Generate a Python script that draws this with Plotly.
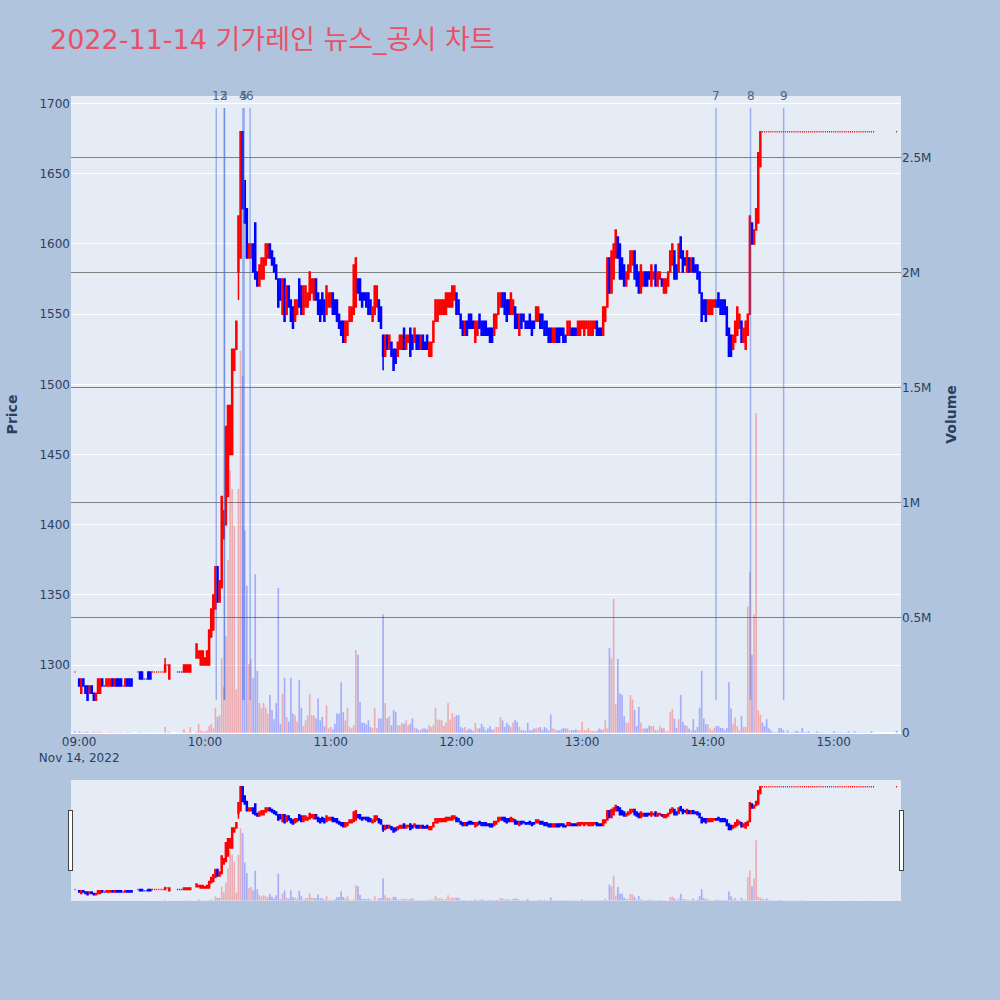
import pandas as pd
import plotly.graph_objects as go

DAY = "2022-11-14"
TITLE = "2022-11-14 기가레인 뉴스_공시 차트"

# ---- minute timestamps ----
early_times = [
    "08:58",
    "09:00", "09:01", "09:02", "09:03", "09:04", "09:05", "09:06", "09:07", "09:08", "09:09",
    "09:10", "09:11", "09:12", "09:13", "09:14", "09:15", "09:16", "09:17", "09:18", "09:19",
    "09:20", "09:21", "09:22", "09:23", "09:24", "09:25",
    "09:28", "09:29", "09:30", "09:31", "09:32", "09:33", "09:34", "09:35", "09:36", "09:37",
    "09:38", "09:39", "09:40", "09:41", "09:42", "09:43",
    "09:47", "09:48", "09:49", "09:50", "09:51", "09:52", "09:53",
]
continuous_start = "09:56"
continuous_end = "15:19"
close_auction_time = "15:30"

# ---- prices ----
early_open = [
    1295,
    1290, 1280, 1290, 1285, 1285, 1280, 1285, 1280, 1275, 1280,
    1280, 1290, 1285, 1285, 1285, 1285, 1290, 1285, 1290, 1290,
    1290, 1285, 1285, 1290, 1290, 1290,
    1295, 1295, 1295, 1290, 1290, 1295, 1295, 1295, 1295, 1295,
    1295, 1295, 1295, 1295, 1300, 1290,
    1295, 1295, 1295, 1295, 1295, 1295, 1295,
]
early_close = [
    1295,
    1285, 1290, 1285, 1280, 1275, 1285, 1280, 1275, 1280, 1290,
    1290, 1285, 1285, 1290, 1290, 1290, 1285, 1290, 1285, 1285,
    1285, 1285, 1290, 1285, 1285, 1285,
    1295, 1290, 1290, 1290, 1290, 1290, 1290, 1295, 1295, 1295,
    1295, 1295, 1295, 1300, 1300, 1300,
    1295, 1295, 1295, 1300, 1300, 1300, 1300,
]

cont_open = [
    1305, 1305, 1300, 1300, 1300, 1300, 1300, 1320, 1325, 1340,
    1370, 1345, 1355, 1390, 1400, 1420, 1450, 1450, 1510, 1525,
    1580, 1590, 1680, 1645, 1625, 1590, 1590, 1600, 1615, 1580,
    1570, 1575, 1575, 1585, 1590, 1600, 1595, 1590, 1585, 1575,
    1575, 1550, 1575, 1550, 1570, 1560, 1555, 1545, 1550, 1575,
    1570, 1550, 1555, 1555, 1560, 1565, 1560, 1575, 1565, 1560,
    1565, 1560, 1550, 1555, 1555, 1565, 1560, 1560, 1550, 1545,
    1545, 1530, 1535, 1545, 1545, 1550, 1555, 1575, 1575, 1565,
    1565, 1565, 1565, 1560, 1545, 1550, 1555, 1560, 1555, 1535,
    1520, 1535, 1525, 1530, 1525, 1525, 1520, 1525, 1525, 1540,
    1525, 1530, 1540, 1535, 1530, 1535, 1535, 1525, 1535, 1530,
    1535, 1520, 1520, 1530, 1545, 1545, 1550, 1550, 1550, 1550,
    1555, 1555, 1555, 1560, 1565, 1560, 1550, 1545, 1535, 1545,
    1550, 1550, 1545, 1530, 1535, 1550, 1545, 1545, 1545, 1540,
    1540, 1540, 1535, 1540, 1550, 1555, 1565, 1565, 1560, 1560,
    1550, 1550, 1555, 1550, 1535, 1550, 1550, 1545, 1545, 1550,
    1545, 1545, 1545, 1545, 1550, 1550, 1545, 1545, 1540, 1540,
    1530, 1530, 1540, 1540, 1540, 1540, 1535, 1535, 1535, 1540,
    1540, 1540, 1535, 1535, 1540, 1535, 1540, 1535, 1535, 1535,
    1540, 1545, 1540, 1540, 1535, 1545, 1555, 1590, 1565, 1575,
    1590, 1605, 1600, 1590, 1585, 1570, 1575, 1580, 1585, 1595,
    1585, 1580, 1565, 1570, 1580, 1580, 1580, 1570, 1575, 1585,
    1570, 1575, 1575, 1565, 1565, 1570, 1580, 1585, 1595, 1585,
    1580, 1605, 1595, 1590, 1580, 1590, 1580, 1590, 1585, 1585,
    1580, 1565, 1560, 1560, 1550, 1550, 1550, 1555, 1560, 1565,
    1560, 1560, 1560, 1555, 1540, 1535, 1525, 1530, 1535, 1540,
    1545, 1530, 1525, 1535, 1550, 1615, 1600, 1610, 1615, 1655,
    1680, 1680, 1680, 1680, 1680, 1680, 1680, 1680, 1680, 1680,
    1680, 1680, 1680, 1680, 1680, 1680, 1680, 1680, 1680, 1680,
    1680, 1680, 1680, 1680, 1680, 1680, 1680, 1680, 1680, 1680,
    1680, 1680, 1680, 1680, 1680, 1680, 1680, 1680, 1680, 1680,
    1680, 1680, 1680, 1680, 1680, 1680, 1680, 1680, 1680, 1680,
    1680, 1680, 1680, 1680,
]
cont_close = [
    1315, 1310, 1310, 1310, 1305, 1310, 1325, 1340, 1350, 1370,
    1345, 1360, 1420, 1410, 1470, 1485, 1485, 1525, 1525, 1545,
    1620, 1680, 1625, 1615, 1590, 1600, 1600, 1580, 1575, 1570,
    1585, 1590, 1590, 1600, 1600, 1590, 1585, 1580, 1575, 1555,
    1560, 1575, 1545, 1570, 1555, 1545, 1540, 1560, 1560, 1555,
    1550, 1570, 1570, 1565, 1580, 1575, 1575, 1560, 1550, 1545,
    1550, 1545, 1570, 1565, 1565, 1550, 1550, 1545, 1540, 1535,
    1530, 1545, 1545, 1555, 1555, 1585, 1590, 1565, 1560, 1555,
    1560, 1555, 1550, 1550, 1555, 1570, 1570, 1545, 1540, 1520,
    1535, 1525, 1535, 1520, 1510, 1515, 1530, 1535, 1535, 1525,
    1535, 1535, 1520, 1525, 1540, 1525, 1525, 1535, 1525, 1525,
    1525, 1530, 1530, 1545, 1560, 1560, 1560, 1560, 1560, 1565,
    1565, 1565, 1570, 1570, 1550, 1550, 1540, 1535, 1545, 1535,
    1540, 1540, 1540, 1545, 1545, 1540, 1535, 1535, 1535, 1535,
    1530, 1530, 1550, 1550, 1565, 1565, 1555, 1550, 1545, 1550,
    1565, 1560, 1540, 1540, 1550, 1540, 1545, 1540, 1540, 1540,
    1535, 1540, 1555, 1555, 1540, 1540, 1535, 1535, 1530, 1530,
    1540, 1540, 1530, 1530, 1535, 1530, 1530, 1545, 1545, 1535,
    1535, 1535, 1545, 1545, 1545, 1545, 1545, 1545, 1545, 1545,
    1545, 1535, 1535, 1535, 1555, 1555, 1590, 1565, 1595, 1600,
    1610, 1590, 1575, 1575, 1570, 1580, 1585, 1595, 1595, 1575,
    1570, 1565, 1585, 1580, 1570, 1570, 1575, 1585, 1580, 1570,
    1580, 1580, 1570, 1575, 1575, 1580, 1595, 1600, 1575, 1575,
    1600, 1590, 1580, 1585, 1595, 1580, 1590, 1580, 1580, 1575,
    1565, 1545, 1550, 1545, 1560, 1560, 1560, 1560, 1555, 1555,
    1550, 1550, 1550, 1535, 1520, 1520, 1535, 1545, 1555, 1550,
    1530, 1540, 1545, 1550, 1620, 1600, 1610, 1625, 1665, 1680,
    1680, 1680, 1680, 1680, 1680, 1680, 1680, 1680, 1680, 1680,
    1680, 1680, 1680, 1680, 1680, 1680, 1680, 1680, 1680, 1680,
    1680, 1680, 1680, 1680, 1680, 1680, 1680, 1680, 1680, 1680,
    1680, 1680, 1680, 1680, 1680, 1680, 1680, 1680, 1680, 1680,
    1680, 1680, 1680, 1680, 1680, 1680, 1680, 1680, 1680, 1680,
    1680, 1680, 1680, 1680,
]
close_auction_open = 1680
close_auction_close = 1680

# wick extremes beyond the candle bodies
wick_high = {"09:41": 1305}
wick_low = {"10:16": 1560, "11:25": 1510}

# ---- volumes ----
early_volume = [
    8000,
    6000, 5000, 3000, 4000, 6000, 3000, 2000, 5000, 2000, 7000,
    4000, 3000, 1000, 3000, 2000, 4000, 2000, 3000, 2000, 1000,
    3000, 1000, 2000, 2000, 3000, 1000,
    2000, 3000, 1000, 1000, 2000, 2000, 1000, 1000, 1000, 1000,
    1000, 1000, 1000, 26000, 2000, 5000,
    1000, 1000, 2000, 16000, 3000, 2000, 26000,
]
cont_volume = [
    5000, 40000, 10000, 8000, 6000, 12000, 30000, 40000, 20000, 110000,
    70000, 77000, 325000, 200000, 420000, 750000, 1140000, 1060000, 900000, 190000,
    1060000, 1660000, 1550000, 880000, 640000, 300000, 320000, 240000, 690000, 270000,
    130000, 110000, 130000, 110000, 85000, 165000, 100000, 60000, 130000, 630000,
    40000, 170000, 240000, 70000, 50000, 240000, 85000, 77000, 50000, 230000,
    110000, 30000, 55000, 77000, 170000, 77000, 77000, 63000, 150000, 55000,
    70000, 30000, 120000, 20000, 26000, 15000, 40000, 85000, 85000, 220000,
    90000, 55000, 110000, 26000, 20000, 34000, 360000, 340000, 135000, 44000,
    44000, 38000, 55000, 26000, 20000, 110000, 23000, 63000, 63000, 515000,
    130000, 63000, 73000, 34000, 100000, 92000, 34000, 34000, 44000, 40000,
    55000, 34000, 40000, 63000, 23000, 20000, 12000, 16000, 20000, 20000,
    15000, 34000, 26000, 36000, 110000, 58000, 58000, 55000, 30000, 44000,
    130000, 58000, 87000, 70000, 77000, 77000, 26000, 20000, 26000, 12000,
    20000, 15000, 10000, 44000, 20000, 20000, 40000, 26000, 10000, 20000,
    30000, 15000, 15000, 26000, 26000, 70000, 55000, 26000, 44000, 34000,
    26000, 44000, 58000, 48000, 26000, 12000, 12000, 9000, 44000, 12000,
    12000, 20000, 20000, 23000, 26000, 12000, 26000, 20000, 10000, 80000,
    20000, 15000, 12000, 12000, 15000, 22000, 20000, 20000, 12000, 12000,
    12000, 16000, 12000, 12000, 48000, 12000, 12000, 23000, 10000, 9000,
    9000, 9000, 20000, 15000, 15000, 55000, 20000, 370000, 325000, 583000,
    124000, 322000, 172000, 165000, 73000, 45000, 45000, 165000, 146000, 100000,
    30000, 114000, 45000, 20000, 20000, 20000, 32000, 30000, 30000, 12000,
    12000, 30000, 20000, 23000, 8000, 8000, 90000, 103000, 63000, 22000,
    60000, 165000, 48000, 34000, 30000, 20000, 12000, 60000, 12000, 26000,
    110000, 270000, 63000, 38000, 38000, 20000, 12000, 22000, 30000, 30000,
    22000, 22000, 12000, 22000, 220000, 106000, 40000, 67000, 30000, 12000,
    73000, 26000, 26000, 550000, 700000, 340000, 515000, 1390000, 100000, 80000,
    44000, 30000, 60000, 20000, 12000, 3000, 3000, 3000, 22000, 22000,
    12000, 3000, 12000, 3000, 3000, 3000, 10000, 8000, 3000, 22000,
    3000, 3000, 8000, 2000, 2000, 2000, 8000, 2000, 2000, 2000,
    2000, 2000, 2000, 2000, 8000, 2000, 2000, 2000, 2000, 2000,
    2000, 8000, 2000, 2000, 8000, 2000, 2000, 2000, 2000, 2000,
    2000, 2000, 8000, 2000,
]
close_auction_volume = 10000

# ---- news / disclosure markers ----
news_labels = ["1", "2", "3", "4", "5", "6", "7", "8", "9"]
news_times = ["10:05:24", "10:09:18", "10:09:18", "10:18:06", "10:18:42",
              "10:21:34", "14:03:48", "14:20:18", "14:36:06"]

# ---- assemble ----
cont_times = [t.strftime("%H:%M") for t in
              pd.date_range(f"{DAY} {continuous_start}", f"{DAY} {continuous_end}", freq="min")]
times = early_times + cont_times + [close_auction_time]
opens = early_open + cont_open + [close_auction_open]
closes = early_close + cont_close + [close_auction_close]
volumes = early_volume + cont_volume + [close_auction_volume]
assert len(times) == len(opens) == len(closes) == len(volumes), (len(times), len(opens), len(closes), len(volumes))

highs = [max(o, c, wick_high.get(t, 0)) for t, o, c in zip(times, opens, closes)]
lows = [min(o, c, wick_low.get(t, 10 ** 9)) for t, o, c in zip(times, opens, closes)]
x = [f"{DAY} {t}" for t in times]
bar_colors = ["rgba(255,0,0,0.27)" if c > o else "rgba(0,0,255,0.27)" for o, c in zip(opens, closes)]

fig = go.Figure()
fig.add_trace(go.Candlestick(
    x=x, open=opens, high=highs, low=lows, close=closes,
    increasing=dict(line=dict(color="red", width=1.5), fillcolor="red"),
    decreasing=dict(line=dict(color="blue", width=1.5), fillcolor="blue"),
    name="Price", showlegend=False,
))
fig.add_trace(go.Bar(
    x=x, y=volumes, yaxis="y2", name="Volume", showlegend=False,
    marker=dict(color=bar_colors, line=dict(width=0)),
))

shapes, annotations = [], []
for lab, t in zip(news_labels, news_times):
    xt = f"{DAY} {t}"
    shapes.append(dict(type="line", xref="x", yref="paper", x0=xt, x1=xt,
                       y0=0.052, y1=0.981, opacity=0.45,
                       line=dict(color="royalblue", width=1.5)))
    annotations.append(dict(x=xt, y=1.0, xref="x", yref="paper", text=lab,
                            showarrow=False, yanchor="middle", xanchor="center",
                            font=dict(size=12, color="#506784")))

fig.update_layout(
    width=1000, height=1000,
    paper_bgcolor="lightsteelblue",
    font=dict(family="Verdana, DejaVu Sans, sans-serif", size=12, color="#2a3f5f"),
    title=dict(text=TITLE, x=0.05, y=0.96, xanchor="left", yanchor="middle",
               font=dict(size=27, color="#ea5167",
                         family="Verdana, DejaVu Sans, Noto Sans CJK KR, sans-serif")),
    margin=dict(l=69, r=99, t=96, b=100),
    showlegend=False,
    bargap=0.2,
    xaxis=dict(
        type="date",
        range=[f"{DAY} 08:56:06", f"{DAY} 15:32:06"],
        showgrid=False,
        rangeslider=dict(visible=True, bgcolor="#E5ECF6", thickness=0.15),
    ),
    yaxis=dict(title=dict(text="<b>Price</b>", font=dict(size=14), standoff=18),
               range=[1251.6, 1705.4]),
    yaxis2=dict(title=dict(text="<b>Volume</b>", font=dict(size=14)),
                overlaying="y", side="right", range=[0, 2.767e6],
                showgrid=True, gridcolor="gray"),
    shapes=shapes,
    annotations=annotations,
)

fig.write_html("out.html", config={"displayModeBar": False},
               post_script="document.body.style.margin='0';")
